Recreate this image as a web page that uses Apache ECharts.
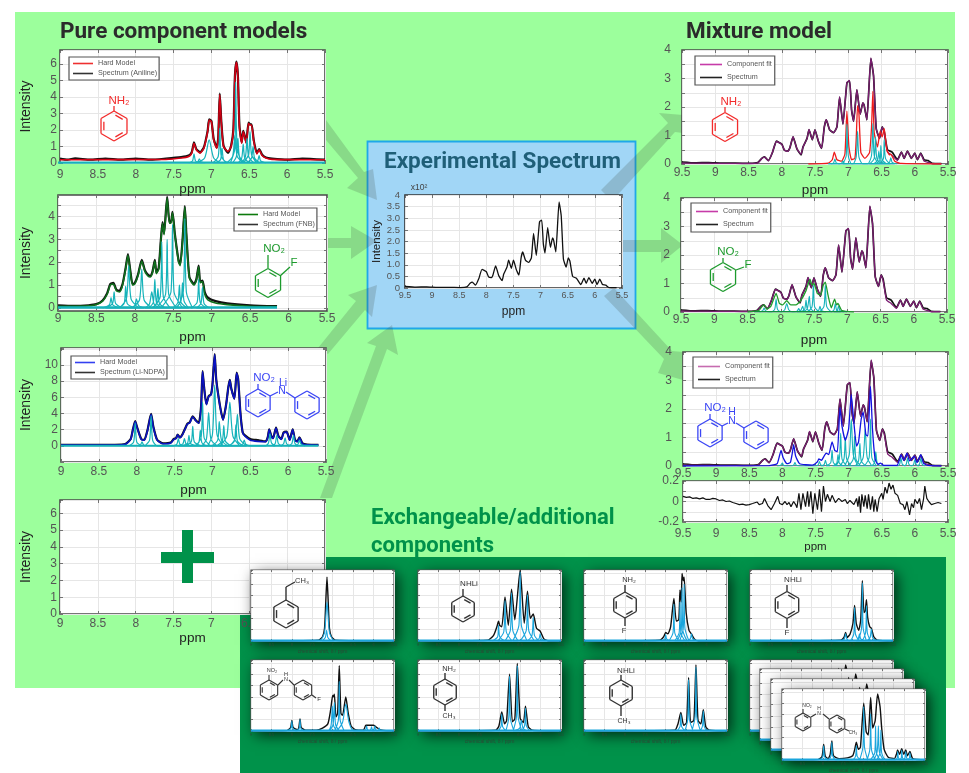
<!DOCTYPE html>
<html>
<head>
<meta charset="utf-8">
<title>Spectral hard models</title>
<script src="https://cdn.jsdelivr.net/npm/echarts@6/dist/echarts.min.js"></script>
<style>html,body{margin:0;padding:0;background:#fff}#c{width:969px;height:773px;filter:blur(.45px)}</style>
</head>
<body>
<div id="c"></div>
<script>
// ---------- axis ticks ----------
const fnbTicks = [0,.5,1,1.5,2,2.5,3,3.5,4,4.5];
const fnbTickLabels = [0,1,2,3,4];

// ---------- pure component: aniline ----------
const anilineModel = [[9,.2],[7.6,.22],[7.4,.3],[7.3,.4],[7.26,.6],[7.23,1.2],[7.2,.8],[7.15,.6],[7.1,.9],[7.05,1.9],[7.03,2.6],[7.0,2.5],[6.97,1.4],[6.93,.9],[6.91,1.5],[6.89,4.15],[6.87,2.5],[6.84,1.0],[6.78,.7],[6.74,1.0],[6.71,2.0],[6.69,5.2],[6.67,6.1],[6.65,5.2],[6.63,2.2],[6.6,1.2],[6.58,1.9],[6.56,1.6],[6.54,1.2],[6.51,2.4],[6.49,2.3],[6.47,2.3],[6.44,1.3],[6.4,.55],[6.37,.8],[6.33,.45],[6.28,.3],[6.2,.22],[5.5,.2]];
const anilineSpectrum = [[9,.27],[8.9,.2],[8.8,.28],[8.6,.2],[8.4,.27],[8.2,.2],[8,.27],[7.8,.2],[7.6,.27],[7.4,.36],[7.3,.45],[7.26,.65],[7.23,1.25],[7.2,.85],[7.15,.65],[7.1,.95],[7.05,1.95],[7.03,2.65],[7.0,2.55],[6.97,1.45],[6.93,.95],[6.91,1.55],[6.89,4.2],[6.87,2.55],[6.84,1.05],[6.78,.62],[6.74,1.05],[6.71,2.05],[6.69,5.25],[6.67,6.15],[6.65,5.25],[6.63,2.25],[6.6,1.25],[6.58,1.95],[6.56,1.65],[6.54,1.25],[6.51,2.45],[6.49,2.35],[6.47,2.35],[6.44,1.35],[6.4,.6],[6.37,.85],[6.33,.5],[6.28,.33],[6.2,.27],[6,.2],[5.8,.27],[5.5,.2]];
const anilinePeaks = [[7.3,0],[7.25,.12],[7.23,.55],[7.21,.12],[7.16,0],[7.22,0],[7.18,.08],[7.16,.25],[7.14,.08],[7.08,0],[7.2,0],[7.09,.3],[7.03,1.4],[6.97,.3],[6.88,0],[6.98,0],[6.91,.4],[6.89,2.1],[6.87,.4],[6.8,0],[6.95,0],[6.88,.2],[6.86,.9],[6.84,.2],[6.78,0],[6.8,0],[6.72,.4],[6.69,1.7],[6.66,.4],[6.58,0],[6.75,0],[6.69,.9],[6.68,4.9],[6.66,.9],[6.6,0],[6.72,0],[6.67,.4],[6.65,1.5],[6.63,.4],[6.56,0],[6.65,0],[6.6,.3],[6.58,1.15],[6.56,.3],[6.5,0],[6.6,0],[6.55,.4],[6.53,1.5],[6.51,.4],[6.44,0],[6.58,0],[6.51,.5],[6.49,1.9],[6.47,.5],[6.4,0],[6.53,0],[6.47,.3],[6.45,1],[6.43,.3],[6.36,0],[6.45,0],[6.39,.12],[6.37,.45],[6.35,.12],[6.28,0]];

// ---------- pure component: FNB ----------
const fnbModel = [[9,.08],[8.6,.1],[8.5,.15],[8.42,.3],[8.36,.6],[8.32,1.0],[8.28,1.05],[8.24,.75],[8.2,.7],[8.16,1.0],[8.12,1.7],[8.09,2.3],[8.06,1.6],[8.03,1.0],[8.0,1.05],[7.96,1.4],[7.91,2.05],[7.87,1.6],[7.83,1.4],[7.8,1.35],[7.77,1.55],[7.74,2.05],[7.72,1.5],[7.69,1.7],[7.66,3.0],[7.64,3.7],[7.62,3.2],[7.58,4.8],[7.55,3.7],[7.53,3.7],[7.51,4.15],[7.48,3.2],[7.43,2],[7.41,1.85],[7.38,2.9],[7.35,4.4],[7.33,3.2],[7.29,1.3],[7.23,1.0],[7.2,1.2],[7.17,1.8],[7.15,1.1],[7.12,1.15],[7.09,.6],[7.05,.35],[6.95,.22],[6.8,.15],[6.5,.08],[6.15,.06]];
const fnbSpectrum = [[9,.12],[8.8,.09],[8.6,.12],[8.5,.17],[8.42,.33],[8.36,.65],[8.32,1.05],[8.28,1.1],[8.24,.8],[8.2,.75],[8.16,1.05],[8.12,1.75],[8.09,2.35],[8.06,1.65],[8.03,1.05],[8.0,1.1],[7.96,1.45],[7.91,2.1],[7.87,1.65],[7.83,1.45],[7.8,1.4],[7.77,1.6],[7.74,2.1],[7.72,1.55],[7.69,1.75],[7.66,3.05],[7.64,3.75],[7.62,3.25],[7.58,4.85],[7.55,3.75],[7.53,3.75],[7.51,4.2],[7.48,3.25],[7.43,2.05],[7.41,1.9],[7.38,2.95],[7.35,4.45],[7.33,3.25],[7.29,1.35],[7.23,1.05],[7.2,1.25],[7.17,1.85],[7.15,1.15],[7.12,1.2],[7.09,.68],[7.05,.45],[6.95,.3],[6.8,.2],[6.5,.12],[6.15,.08]];
const fnbPeaks = [[8.42,0],[8.33,.15],[8.31,.45],[8.29,.15],[8.2,0],[8.38,0],[8.29,.2],[8.27,.7],[8.25,.2],[8.16,0],[8.22,0],[8.14,.2],[8.12,.95],[8.1,.2],[8.0,0],[8.2,0],[8.11,.4],[8.08,1.85],[8.05,.4],[7.95,0],[8.05,0],[8.0,.1],[7.98,.4],[7.95,.1],[7.88,0],[8.04,0],[7.94,.35],[7.91,1.7],[7.88,.35],[7.78,0],[7.87,0],[7.81,.18],[7.78,.7],[7.75,.18],[7.68,0],[7.82,0],[7.76,.25],[7.74,1.25],[7.72,.25],[7.65,0],[7.78,0],[7.72,.2],[7.7,.85],[7.68,.2],[7.6,0],[7.76,0],[7.67,.5],[7.65,2.9],[7.63,.5],[7.54,0],[7.72,0],[7.6,.6],[7.58,3.0],[7.56,.6],[7.46,0],[7.66,0],[7.53,.7],[7.51,3.65],[7.49,.7],[7.38,0],[7.5,0],[7.44,.25],[7.42,1.0],[7.4,.25],[7.32,0],[7.47,0],[7.4,.3],[7.38,1.1],[7.36,.3],[7.3,0],[7.45,0],[7.37,.7],[7.35,3.9],[7.33,.7],[7.25,0],[7.27,0],[7.19,.25],[7.17,1.25],[7.15,.25],[7.07,0],[7.2,0],[7.14,.2],[7.12,.9],[7.1,.2],[7.03,0]];

// ---------- pure component: Li-NDPA ----------
const ndpaModel = [[9,.1],[8.3,.1],[8.15,.2],[8.08,.8],[8.05,2],[8.02,3.0],[7.99,2.1],[7.94,.8],[7.9,.7],[7.86,1.8],[7.81,3.9],[7.78,2.3],[7.73,.7],[7.65,.25],[7.55,.35],[7.51,.8],[7.48,.9],[7.46,1.35],[7.43,1.0],[7.4,1.3],[7.36,2.1],[7.33,2.7],[7.3,2.85],[7.26,3.6],[7.22,3.1],[7.18,2.8],[7.15,4.8],[7.13,9.2],[7.11,7.2],[7.08,5.1],[7.05,6.1],[7.02,6.3],[7.0,7.5],[6.97,11.3],[6.95,8.2],[6.9,4.9],[6.86,3.2],[6.82,5],[6.79,7.2],[6.77,8.1],[6.75,7],[6.71,5.8],[6.68,9.0],[6.66,8.2],[6.63,4],[6.6,1.6],[6.57,1.2],[6.5,.7],[6.4,.55],[6.3,.5],[6.27,1],[6.25,2],[6.22,1.1],[6.2,.9],[6.16,2.2],[6.13,1.2],[6.09,.8],[6.06,1.6],[6.02,1.7],[5.98,.7],[5.94,2],[5.91,.7],[5.88,.5],[5.85,1],[5.81,.25],[5.75,.12],[5.6,.1]];
const ndpaSpectrum = [[9,.13],[8.7,.12],[8.3,.13],[8.15,.22],[8.08,.85],[8.05,2.05],[8.02,3.05],[7.99,2.15],[7.94,.85],[7.9,.75],[7.86,1.85],[7.81,3.95],[7.78,2.35],[7.73,.75],[7.65,.3],[7.55,.4],[7.51,.85],[7.48,.95],[7.46,1.4],[7.43,1.05],[7.4,1.35],[7.36,2.15],[7.33,2.75],[7.3,2.9],[7.26,3.65],[7.22,3.15],[7.18,2.85],[7.15,4.85],[7.13,9.25],[7.11,7.25],[7.08,5.15],[7.05,6.15],[7.02,6.35],[7.0,7.55],[6.97,11.35],[6.95,8.25],[6.9,4.95],[6.86,3.25],[6.82,5.05],[6.79,7.25],[6.77,8.15],[6.75,7.05],[6.71,5.85],[6.68,9.05],[6.66,8.25],[6.63,4.05],[6.6,1.65],[6.57,1.3],[6.5,.85],[6.4,.7],[6.3,.55],[6.27,1.05],[6.25,2.05],[6.22,1.15],[6.2,.95],[6.16,2.25],[6.13,1.25],[6.09,.85],[6.06,1.65],[6.02,1.75],[5.98,.75],[5.94,2.05],[5.91,.75],[5.88,.55],[5.85,1.05],[5.81,.3],[5.75,.15],[5.6,.12]];
const ndpaPeaks = [[8.1,0],[8.04,.5],[8.02,2.8],[8,.5],[7.94,0],[7.97,0],[7.95,.1],[7.93,.5],[7.91,.1],[7.88,0],[7.89,0],[7.83,.7],[7.81,3.7],[7.79,.7],[7.73,0],[7.52,0],[7.47,.2],[7.45,.9],[7.43,.2],[7.38,0],[7.45,0],[7.39,.25],[7.37,.9],[7.35,.25],[7.3,0],[7.4,0],[7.33,.3],[7.31,1.3],[7.29,.3],[7.22,0],[7.36,0],[7.28,.5],[7.26,2.4],[7.24,.5],[7.16,0],[7.24,0],[7.18,.4],[7.16,1.9],[7.14,.4],[7.08,0],[7.22,0],[7.15,1],[7.13,5.4],[7.11,1],[7.03,0],[7.14,0],[7.08,.8],[7.05,4.1],[7.02,.8],[6.94,0],[7.06,0],[7,1.4],[6.97,7.5],[6.94,1.4],[6.86,0],[7.0,0],[6.93,.7],[6.91,3],[6.88,.7],[6.8,0],[6.94,0],[6.87,.6],[6.85,2.5],[6.83,.6],[6.76,0],[6.9,0],[6.81,1.2],[6.77,5.4],[6.73,1.2],[6.64,0],[6.78,0],[6.71,.6],[6.69,2.6],[6.67,.6],[6.6,0],[6.77,0],[6.7,.9],[6.67,3.9],[6.64,.9],[6.55,0],[6.65,0],[6.6,.2],[6.58,.7],[6.56,.2],[6.5,0],[6.3,0],[6.26,.35],[6.24,1.5],[6.22,.35],[6.17,0],[6.2,0],[6.17,.3],[6.15,1.3],[6.13,.3],[6.08,0],[6.1,0],[6.06,.25],[6.04,1],[6.02,.25],[5.98,0],[6,0],[5.95,.3],[5.93,1.3],[5.91,.3],[5.87,0],[5.9,0],[5.87,.2],[5.85,.7],[5.83,.2],[5.78,0]];

// ---------- experimental mixture ----------
const mixtureSpectrum = [[9.5,.07],[9.3,.04],[9.1,.05],[8.9,.03],[8.7,.03],[8.48,.02],[8.36,.05],[8.3,.2],[8.26,.25],[8.2,.12],[8.14,.4],[8.08,.8],[8.0,.7],[7.96,.48],[7.91,.45],[7.88,.55],[7.83,.95],[7.8,.75],[7.77,.52],[7.71,.32],[7.68,.6],[7.62,.9],[7.59,1.2],[7.54,.85],[7.5,1.2],[7.45,.8],[7.4,.55],[7.36,1.3],[7.33,1.55],[7.28,1.2],[7.22,1.1],[7.17,1.3],[7.13,2.35],[7.08,1.4],[7.02,2.85],[6.98,2.92],[6.95,1.9],[6.92,1.5],[6.87,2.6],[6.82,1.75],[6.78,2.15],[6.76,2.05],[6.72,1.55],[6.66,3.7],[6.62,3.1],[6.58,1.25],[6.53,.9],[6.49,1.3],[6.46,1.15],[6.41,.5],[6.34,.42],[6.26,.15],[6.2,.42],[6.16,.2],[6.11,.45],[6.05,.2],[6,.38],[5.96,.15],[5.91,.38],[5.86,.15],[5.8,.12],[5.74,.02],[5.6,.01]];
const mixtureFit = [[9.5,.03],[9.3,.03],[9.1,.03],[8.9,.02],[8.7,.02],[8.48,.02],[8.36,.04],[8.3,.19],[8.26,.24],[8.2,.11],[8.14,.41],[8.08,.79],[8.0,.69],[7.96,.49],[7.91,.44],[7.88,.56],[7.83,.96],[7.8,.74],[7.77,.53],[7.71,.34],[7.68,.6],[7.62,.89],[7.59,1.21],[7.54,.86],[7.5,1.2],[7.45,.81],[7.4,.56],[7.36,1.3],[7.33,1.56],[7.28,1.2],[7.22,1.1],[7.17,1.3],[7.13,2.36],[7.08,1.4],[7.02,2.86],[6.98,2.93],[6.95,1.9],[6.92,1.5],[6.87,2.61],[6.82,1.75],[6.78,2.15],[6.76,2.05],[6.72,1.55],[6.66,3.72],[6.62,3.1],[6.58,1.25],[6.53,.9],[6.49,1.3],[6.46,1.1],[6.41,.42],[6.34,.3],[6.26,.13],[6.2,.42],[6.16,.2],[6.11,.45],[6.05,.2],[6,.38],[5.96,.16],[5.91,.36],[5.86,.1],[5.8,.06],[5.74,.01],[5.6,.01]];

// ---------- mixture components ----------
const mixAnilineFit = [[7.6,0],[7.3,.03],[7.24,.15],[7.21,.42],[7.17,.15],[7.1,.1],[7.05,.35],[7.02,1.85],[6.99,.6],[6.95,.15],[6.9,.2],[6.88,.9],[6.86,2.05],[6.84,1.8],[6.81,.4],[6.75,.2],[6.68,.4],[6.65,1.3],[6.63,2.55],[6.61,1.1],[6.56,.6],[6.52,1.15],[6.49,.95],[6.46,1.25],[6.42,.5],[6.38,.32],[6.36,.35],[6.3,.1],[6.2,.02],[5.6,0]];
const mixAnilinePeaks = [[7.26,0],[7.22,.04],[7.2,.17],[7.18,.04],[7.12,0],[7.15,0],[7.1,.03],[7.08,.1],[7.06,.03],[7,0],[7.08,0],[7.03,.3],[7.02,1.4],[7,.3],[6.95,0],[6.93,0],[6.88,.25],[6.86,1.15],[6.84,.25],[6.78,0],[6.71,0],[6.65,.3],[6.63,1.42],[6.61,.3],[6.55,0],[6.68,0],[6.61,.2],[6.59,.95],[6.57,.2],[6.5,0],[6.62,0],[6.56,.12],[6.54,.45],[6.52,.12],[6.45,0],[6.58,0],[6.52,.15],[6.51,.65],[6.49,.15],[6.42,0],[6.54,0],[6.47,.2],[6.46,.85],[6.44,.2],[6.37,0],[6.44,0],[6.38,.06],[6.36,.22],[6.34,.06],[6.27,0]];
const mixFnbFit = [[8.5,0],[8.33,.05],[8.28,.2],[8.25,.25],[8.21,.1],[8.15,.2],[8.07,.65],[8.02,.3],[7.97,.25],[7.91,.4],[7.85,.25],[7.77,.25],[7.7,.4],[7.62,.75],[7.56,1.15],[7.53,.95],[7.5,1.0],[7.45,.65],[7.4,.6],[7.36,.95],[7.33,1.05],[7.29,.6],[7.24,.15],[7.19,.45],[7.16,.25],[7.14,.3],[7.08,.05],[6.9,0]];
const mixFnbPeaks = [[8.32,0],[8.27,.05],[8.25,.14],[8.23,.05],[8.17,0],[8.14,0],[8.09,.1],[8.07,.45],[8.05,.1],[8,0],[8,0],[7.94,.08],[7.91,.3],[7.88,.08],[7.82,0],[7.8,0],[7.75,.04],[7.73,.12],[7.71,.04],[7.66,0],[7.76,0],[7.7,.05],[7.67,.2],[7.65,.05],[7.58,0],[7.7,0],[7.64,.1],[7.62,.42],[7.6,.1],[7.53,0],[7.66,0],[7.6,.12],[7.57,.55],[7.55,.12],[7.48,0],[7.6,0],[7.53,.18],[7.51,.95],[7.49,.18],[7.42,0],[7.5,0],[7.43,.06],[7.41,.2],[7.39,.06],[7.32,0],[7.42,0],[7.35,.2],[7.33,.95],[7.31,.2],[7.24,0],[7.25,0],[7.2,.07],[7.18,.3],[7.16,.07],[7.1,0],[7.2,0],[7.15,.05],[7.13,.22],[7.11,.05],[7.05,0]];
const mixNdpaFit = [[9.5,0],[8.2,.01],[8.08,.08],[8.05,.3],[8.02,.55],[7.99,.3],[7.93,.08],[7.88,.12],[7.85,.45],[7.83,.75],[7.8,.35],[7.74,.08],[7.55,.03],[7.47,.15],[7.45,.25],[7.41,.2],[7.37,.35],[7.34,.45],[7.3,.4],[7.25,.85],[7.21,.55],[7.17,.5],[7.13,2.05],[7.1,1.4],[7.05,.9],[7.0,1.3],[6.96,2.5],[6.92,1.5],[6.88,.7],[6.85,.85],[6.81,1.65],[6.78,1.9],[6.74,1.1],[6.71,1.05],[6.67,2.8],[6.64,1.3],[6.6,.25],[6.56,.06],[6.52,.1],[6.47,.02],[6.27,.02],[6.23,.25],[6.21,.4],[6.17,.2],[6.12,.45],[6.08,.18],[6.01,.35],[5.97,.12],[5.91,.4],[5.87,.1],[5.8,.02],[5.6,0]];
const mixNdpaPeaks = [[8.08,0],[8.03,.02],[8,.1],[7.98,.02],[7.93,0],[7.87,0],[7.83,.03],[7.81,.12],[7.79,.03],[7.73,0],[7.5,0],[7.46,.04],[7.44,.16],[7.42,.04],[7.37,0],[7.42,0],[7.37,.05],[7.35,.2],[7.33,.05],[7.28,0],[7.34,0],[7.27,.12],[7.25,.55],[7.23,.12],[7.16,0],[7.24,0],[7.18,.1],[7.16,.4],[7.14,.1],[7.08,0],[7.19,0],[7.14,.25],[7.12,1.15],[7.1,.25],[7.03,0],[7.13,0],[7.07,.25],[7.05,1.0],[7.03,.25],[6.96,0],[7.06,0],[6.99,.4],[6.96,1.65],[6.93,.4],[6.86,0],[7.0,0],[6.93,.25],[6.91,1.05],[6.89,.25],[6.82,0],[6.9,0],[6.85,.18],[6.83,.8],[6.81,.18],[6.74,0],[6.85,0],[6.78,.3],[6.75,1.3],[6.72,.3],[6.65,0],[6.76,0],[6.69,.3],[6.67,1.65],[6.65,.3],[6.58,0],[6.65,0],[6.61,.12],[6.59,.5],[6.57,.12],[6.52,0],[6.26,0],[6.23,.06],[6.21,.28],[6.19,.06],[6.15,0],[6.16,0],[6.13,.06],[6.11,.28],[6.09,.06],[6.05,0],[6.05,0],[6.02,.05],[6,.22],[5.98,.05],[5.94,0],[5.96,0],[5.93,.06],[5.91,.28],[5.89,.06],[5.85,0]];
const residual = [[9.5,.05],[9.45,.04],[9.4,.045],[9.35,.03],[9.3,.035],[9.25,.025],[9.2,.035],[9.15,.02],[9.1,.02],[9.05,.03],[9,.025],[8.95,.01],[8.9,.015],[8.85,.0],[8.8,.005],[8.75,-.01],[8.7,-.02],[8.65,-.03],[8.6,-.025],[8.55,-.035],[8.5,-.03],[8.45,-.02],[8.42,-.03],[8.38,-.005],[8.35,-.03],[8.3,-.02],[8.27,.03],[8.22,-.04],[8.19,-.03],[8.17,-.08],[8.12,-.02],[8.07,.05],[8.04,-.02],[8.0,-.03],[7.96,0],[7.93,-.03],[7.9,-.01],[7.87,-.05],[7.83,0],[7.8,-.03],[7.78,-.06],[7.75,.08],[7.72,-.08],[7.69,.08],[7.65,-.05],[7.62,.1],[7.6,-.05],[7.57,.1],[7.54,-.12],[7.51,.08],[7.47,-.08],[7.44,.12],[7.41,-.1],[7.38,.15],[7.35,.0],[7.32,.07],[7.28,.0],[7.25,.06],[7.2,-.01],[7.15,.03],[7.1,0],[7.05,.02],[7.02,-.02],[6.98,.01],[6.92,-.03],[6.88,.03],[6.86,-.05],[6.84,.05],[6.82,-.11],[6.8,.07],[6.77,-.05],[6.75,.06],[6.72,-.07],[6.7,.07],[6.67,-.08],[6.64,.05],[6.62,-.1],[6.6,.02],[6.57,-.1],[6.54,.03],[6.5,.08],[6.48,.02],[6.45,.14],[6.42,.08],[6.39,.18],[6.36,.12],[6.33,.16],[6.3,.08],[6.26,.06],[6.22,-.02],[6.18,-.03],[6.15,-.08],[6.12,.0],[6.08,-.13],[6.05,-.02],[6.02,-.06],[6,.02],[5.96,-.02],[5.93,.03],[5.9,-.08],[5.87,.02],[5.85,.15],[5.82,.03],[5.79,.0],[5.75,-.03],[5.7,-.02],[5.65,-.01],[5.6,-.02]];

// ---------- exchangeable components ----------
const ethylSpectrum = [[9,0],[7.35,.01],[7.25,.06],[7.2,.18],[7.17,.55],[7.14,.9],[7.11,.55],[7.08,.18],[7.03,.06],[6.93,.01],[5.5,0]];
const ethylPeaks = [[7.3,0],[7.2,.12],[7.14,.55],[7.08,.12],[6.98,0],[7.26,0],[7.18,.05],[7.15,.15],[7.12,.05],[7.04,0]];
const nhliSpectrum = [[9,0],[7.3,.01],[7.15,.08],[7.07,.2],[7.03,.28],[7.0,.22],[6.95,.2],[6.87,.62],[6.79,.22],[6.71,.73],[6.63,.3],[6.5,1.0],[6.4,.25],[6.32,.7],[6.25,.32],[6.18,.38],[6.1,.18],[6.01,.14],[5.92,.03],[5.8,0],[5.5,0]];
const nhliPeaks = [[7.18,0],[7.05,.06],[7.03,.22],[7,.06],[6.88,0],[7.05,0],[6.9,.13],[6.87,.57],[6.84,.13],[6.7,0],[6.87,0],[6.74,.15],[6.71,.68],[6.68,.15],[6.55,0],[6.68,0],[6.53,.22],[6.5,.97],[6.47,.22],[6.33,0],[6.5,0],[6.35,.15],[6.32,.65],[6.29,.15],[6.15,0],[6.32,0],[6.21,.08],[6.18,.33],[6.15,.08],[6.03,0],[6.15,0],[6.04,.03],[6.01,.1],[5.98,.03],[5.88,0]];
const fluoroAnilineSpectrum = [[9,0],[7.15,.01],[7.05,.06],[7.0,.12],[6.95,.1],[6.88,.2],[6.8,.6],[6.74,.28],[6.68,.3],[6.65,.72],[6.62,.55],[6.6,.95],[6.57,.85],[6.55,.9],[6.5,.4],[6.43,.15],[6.37,.1],[6.3,.03],[6.2,0],[5.5,0]];
const fluoroAnilinePeaks = [[7.1,0],[7.02,.03],[7,.09],[6.98,.03],[6.9,0],[6.92,0],[6.82,.12],[6.8,.52],[6.78,.12],[6.68,0],[6.78,0],[6.67,.12],[6.65,.55],[6.63,.12],[6.53,0],[6.72,0],[6.62,.15],[6.6,.75],[6.58,.15],[6.48,0],[6.66,0],[6.57,.18],[6.55,.8],[6.53,.18],[6.43,0],[6.5,0],[6.4,.03],[6.37,.1],[6.34,.03],[6.24,0]];
const fluoroNhliSpectrum = [[9,0],[6.78,.01],[6.7,.05],[6.66,.12],[6.62,.05],[6.55,.1],[6.48,.25],[6.44,.5],[6.4,.25],[6.34,.15],[6.29,.3],[6.25,.85],[6.21,.4],[6.18,.42],[6.15,.58],[6.12,.33],[6.07,.2],[6.03,.18],[5.97,.06],[5.88,.01],[5.5,0]];
const fluoroNhliPeaks = [[6.76,0],[6.69,.03],[6.66,.1],[6.63,.03],[6.56,0],[6.56,0],[6.46,.1],[6.44,.47],[6.42,.1],[6.33,0],[6.4,0],[6.35,.03],[6.32,.1],[6.29,.03],[6.22,0],[6.35,0],[6.27,.18],[6.25,.82],[6.23,.18],[6.15,0],[6.25,0],[6.17,.12],[6.15,.5],[6.13,.12],[6.05,0],[6.14,0],[6.06,.05],[6.03,.17],[6,.05],[5.92,0]];
const fluoroNdpaSpectrum = [[9,0],[8.12,.005],[8.03,.05],[8.0,.15],[7.97,.05],[7.86,.02],[7.83,.05],[7.8,.17],[7.77,.05],[7.66,.01],[7.4,.01],[7.25,.04],[7.12,.1],[7.05,.3],[7.0,.5],[6.98,.48],[6.96,.52],[6.92,.2],[6.88,.25],[6.84,.92],[6.8,.25],[6.76,.22],[6.68,.48],[6.62,.25],[6.55,.07],[6.45,.02],[6.25,.01],[6.19,.08],[6.12,.08],[6.0,.08],[5.9,.04],[5.8,.01],[5.5,0]];
const fluoroNdpaPeaks = [[8.1,0],[8.02,.04],[8,.14],[7.98,.04],[7.9,0],[7.88,0],[7.82,.04],[7.8,.16],[7.78,.04],[7.7,0],[7.12,0],[7.04,.08],[7.01,.35],[6.98,.08],[6.9,0],[7.08,0],[6.99,.09],[6.96,.4],[6.93,.09],[6.84,0],[6.95,0],[6.86,.16],[6.84,.7],[6.82,.16],[6.72,0],[6.9,0],[6.76,.12],[6.68,.38],[6.6,.12],[6.48,0],[6.24,0],[6.19,.02],[6.17,.07],[6.15,.02],[6.1,0],[6.12,0],[6.07,.02],[6.05,.06],[6.03,.02],[5.98,0],[6.03,0],[5.99,.02],[5.97,.07],[5.95,.02],[5.9,0],[5.93,0],[5.88,.01],[5.86,.04],[5.84,.01],[5.78,0]];
const toluidineSpectrum = [[9,0],[7.1,.01],[7.02,.07],[6.95,.27],[6.88,.1],[6.83,.15],[6.76,.8],[6.69,.13],[6.63,.17],[6.57,.95],[6.5,.18],[6.42,.12],[6.37,.35],[6.3,.06],[6.2,.01],[5.5,0]];
const toluidinePeaks = [[7.04,0],[6.97,.06],[6.95,.24],[6.93,.06],[6.85,0],[6.86,0],[6.78,.18],[6.76,.77],[6.74,.18],[6.65,0],[6.67,0],[6.59,.2],[6.57,.92],[6.55,.2],[6.46,0],[6.65,0],[6.51,.04],[6.47,.15],[6.43,.04],[6.33,0],[6.46,0],[6.39,.08],[6.37,.32],[6.35,.08],[6.27,0]];
const methylNhliSpectrum = [[9,0],[6.78,.01],[6.7,.1],[6.63,.26],[6.56,.08],[6.49,.12],[6.44,.75],[6.39,.12],[6.31,.15],[6.26,.93],[6.21,.15],[6.14,.1],[6.08,.3],[6.02,.06],[5.93,.01],[5.5,0]];
const methylNhliPeaks = [[6.72,0],[6.65,.06],[6.63,.24],[6.61,.06],[6.53,0],[6.54,0],[6.46,.17],[6.44,.72],[6.42,.17],[6.33,0],[6.36,0],[6.28,.2],[6.26,.9],[6.24,.2],[6.15,0],[6.16,0],[6.1,.07],[6.08,.28],[6.06,.07],[6,0]];
const tolylNdpaSpectrum = [[9,0],[8.12,.005],[8.02,.05],[7.98,.22],[7.94,.05],[7.87,.02],[7.82,.08],[7.78,.27],[7.74,.06],[7.6,.02],[7.4,.03],[7.27,.06],[7.22,.15],[7.18,.25],[7.13,.15],[7.08,.18],[7.0,.8],[6.94,.4],[6.89,.35],[6.83,.88],[6.78,.45],[6.72,.55],[6.66,.93],[6.6,.75],[6.56,.45],[6.5,.15],[6.4,.04],[6.25,.02],[6.2,.08],[6.17,.14],[6.12,.08],[6.07,.16],[6.02,.08],[5.97,.14],[5.93,.06],[5.87,.12],[5.8,.02],[5.5,0]];
const tolylNdpaPeaks = [[8.06,0],[8,.05],[7.98,.2],[7.96,.05],[7.88,0],[7.86,0],[7.8,.06],[7.78,.25],[7.76,.06],[7.68,0],[7.28,0],[7.2,.05],[7.18,.2],[7.16,.05],[7.08,0],[7.1,0],[7.02,.18],[7,.75],[6.98,.18],[6.9,0],[6.92,0],[6.85,.15],[6.83,.65],[6.81,.15],[6.72,0],[6.84,0],[6.73,.1],[6.71,.48],[6.69,.1],[6.6,0],[6.75,0],[6.67,.12],[6.64,.48],[6.62,.12],[6.52,0],[6.68,0],[6.6,.1],[6.58,.42],[6.56,.1],[6.46,0],[6.23,0],[6.18,.03],[6.17,.12],[6.15,.03],[6.1,0],[6.12,0],[6.08,.03],[6.07,.14],[6.05,.03],[6,0],[6.03,0],[5.99,.03],[5.97,.12],[5.95,.03],[5.9,0],[5.92,0],[5.88,.03],[5.87,.1],[5.85,.03],[5.79,0]];
const baseline = [[9.5,.02],[5.5,.02]];

// ---------- colours ----------
const CYAN='#16b3ba', SKY='#1aa5dc', BLACK='#111';
const GREEN_BG='#9cff9c', DARK='#00924a', BLUE_BOX='#a1d6f6';
const ARROW='rgba(60,70,60,0.2)';
const FONT='"Liberation Sans", Arial, sans-serif';

// ---------- panels ----------
const grid=[], xAxis=[], yAxis=[], series=[], legend=[], g=[];
function lineS(name,data,color,width,xi,z,smooth){
  series.push({name,type:'line',data,xAxisIndex:xi,yAxisIndex:xi,showSymbol:false,symbol:'none',smooth:smooth||0,
    lineStyle:{color,width},itemStyle:{color},z,silent:true,animation:false});
}
function panel(o,draw){
  const z=o.z||2, xi=xAxis.length, sm=!!o.small;
  grid.push({left:o.l,top:o.t,width:o.w,height:o.h,show:true,backgroundColor:'#fff',borderColor:o.border||'#4a4a4a',
    borderWidth:sm?1.2:1.6,z,containLabel:false,outerBoundsMode:'none'});
  if(sm) g.push({type:'rect',shape:{x:o.l,y:o.t,width:o.w,height:o.h},z:z-1,silent:true,
    style:{fill:'#fff',shadowBlur:14,shadowColor:'rgba(0,0,0,.75)',shadowOffsetX:4,shadowOffsetY:4}});
  const gi=grid.length-1;
  const split={show:true,lineStyle:{color:'#e6e6e6',width:1}};
  const tick={show:true,inside:true,length:sm?2:3,lineStyle:{color:'#555',width:.8}};
  const yTick=o.yCustom?{...tick,customValues:o.yCustom}:tick;
  const xm=o.xMax||9;
  xAxis.push({type:'value',gridIndex:gi,inverse:true,min:5.5,max:xm,interval:.5,z,
    axisLine:{show:false,onZero:false},axisTick:tick,splitLine:split,
    axisLabel:{show:true,color:o.xlc||'#555',fontSize:o.xf||12,fontFamily:FONT,margin:o.xm===undefined?4:o.xm,hideOverlap:false,
      showMinLabel:true,showMaxLabel:true},
    name:o.xName===undefined?'ppm':o.xName,nameLocation:'middle',nameGap:o.xg||17,
    nameTextStyle:{color:o.xc||'#222',fontSize:o.xn||13.5,fontFamily:FONT}});
  const fmt=o.yFmt||(v=>String(v));
  const yLab={show:true,color:'#555',fontSize:o.yf||12,fontFamily:FONT,margin:o.ym===undefined?3:o.ym,formatter:fmt,
      showMinLabel:true,showMaxLabel:true};
  if(o.yLabels) yLab.customValues=o.yLabels;
  yAxis.push({type:'value',gridIndex:gi,min:o.yMin,max:o.yMax,interval:o.yInt,z,
    axisLine:{show:false,onZero:false},axisTick:yTick,splitLine:split,axisLabel:yLab,
    name:o.yName||'',nameLocation:'middle',nameGap:o.yg||26,
    nameTextStyle:{color:'#222',fontSize:o.yn||14,fontFamily:FONT}});
  // box ticks on the opposite sides
  xAxis.push({type:'value',gridIndex:gi,inverse:true,min:5.5,max:xm,interval:.5,z,position:'top',
    axisLine:{show:false,onZero:false},axisTick:tick,splitLine:{show:false},axisLabel:{show:false}});
  yAxis.push({type:'value',gridIndex:gi,min:o.yMin,max:o.yMax,interval:o.yInt,z,position:'right',
    axisLine:{show:false,onZero:false},axisTick:yTick,splitLine:{show:false},axisLabel:{show:false}});
  draw(xi,z+1);
  if(o.legend){
    const L=o.legend;
    legend.push({left:L.l,top:L.t,orient:'vertical',itemWidth:L.iw||20,itemHeight:1.6,itemGap:L.gap||3,padding:L.pad||[3,2,3,4],
      selectedMode:false,backgroundColor:'#fff',borderColor:'#555',borderWidth:1.2,z:z+3,icon:'rect',
      textStyle:{color:'#555',fontSize:L.fs||7.2,fontFamily:FONT},
      data:L.items.map(i=>({name:i[0],itemStyle:{color:i[1]}}))});
  }
}
const ints=v=>Number.isInteger(v)&&v>=0&&v<=10?String(v):'';
const yFull={yMin:0,yMax:4,yInt:.5,yFmt:ints,ym:11};

panel({l:60,t:50,w:265,h:113,yMin:0,yMax:6.85,yInt:1,yFmt:ints,yName:'Intensity',yg:27,xm:6,xg:17,
  legend:{l:69,t:57,items:[['Hard Model','#ee3030'],['Spectrum (Aniline)','#333']]}},(x,z)=>{
  lineS('Spectrum (Aniline)',anilineSpectrum,BLACK,2.2,x,z,.2);
  lineS('Hard Model',anilineModel,'#d40014',1.6,x,z,.2);
  lineS('Aniline peaks',anilinePeaks,CYAN,1.2,x,z,.25);
  lineS('Aniline baseline',baseline,CYAN,2.4,x,z);
});
panel({l:58,t:195,w:269,h:116,yMin:-.13,yMax:4.93,yInt:.5,yCustom:fnbTicks,yLabels:fnbTickLabels,yFmt:ints,yName:'Intensity',yg:25,xm:2,xg:19,
  legend:{l:234,t:208,items:[['Hard Model','#0d7a0d'],['Spectrum (FNB)','#333']]}},(x,z)=>{
  lineS('Spectrum (FNB)',fnbSpectrum,BLACK,2.2,x,z,.2);
  lineS('Hard Model',fnbModel,'#0f6f1c',1.6,x,z,.2);
  lineS('FNB peaks',fnbPeaks,CYAN,1.2,x,z,.25);
  lineS('FNB baseline',[[9,.02],[6.15,.02]],CYAN,2.4,x,z);
});
panel({l:61,t:348,w:265,h:114,yMin:-2,yMax:12.1,yInt:2,yFmt:ints,yName:'Intensity',yg:28,xg:21,
  legend:{l:71,t:356,items:[['Hard Model','#3340f0'],['Spectrum (Li-NDPA)','#333']]}},(x,z)=>{
  lineS('Spectrum (Li-NDPA)',ndpaSpectrum,BLACK,2.2,x,z,.2);
  lineS('Hard Model',ndpaModel,'#0a12c4',1.6,x,z,.2);
  lineS('NDPA peaks',ndpaPeaks,CYAN,1.2,x,z,.25);
  lineS('NDPA baseline',[[9,.02],[5.6,.02]],CYAN,2,x,z);
});
panel({l:60,t:500,w:265,h:114,yMin:0,yMax:6.8,yInt:1,yFmt:ints,yName:'Intensity',yg:27,xg:17,z:3},()=>{});

// experimental
panel({l:405,t:195,w:217,h:93,xMax:9.5,...yFull,yFmt:v=>v===0?'0':v===4?'4':v.toFixed(1),
  xf:9,yf:9.5,xn:12,xg:18,xm:3,ym:5,yName:'Intensity',yn:11.5,yg:20,border:'#333'},(x,z)=>{
  lineS('Experimental Spectrum',mixtureSpectrum,BLACK,1.3,x,z,.15);
});

// mixture
panel({l:682,t:50,w:266,h:114,xMax:9.5,...yFull,xm:3,xg:19,
  legend:{l:695,t:56,iw:22,gap:6,pad:[5,3,4,5],items:[['Component fit','#c63ba8'],['Spectrum','#222']]}},(x,z)=>{
  lineS('Spectrum',mixtureSpectrum,BLACK,1.7,x,z,.15);
  lineS('Component fit',mixtureFit,'#7c1d72',1.3,x,z,.15);
  lineS('Aniline fit',mixAnilineFit,'#ee1c1c',1.3,x,z,.15);
  lineS('Aniline fit peaks',mixAnilinePeaks,CYAN,1.1,x,z,.25);
  lineS('Fit baseline',[[7.3,.01],[6.3,.01]],CYAN,1.6,x,z);
});
panel({l:681,t:198,w:266,h:114,xMax:9.5,...yFull,xm:2,xg:21,
  legend:{l:691,t:203,iw:22,gap:6,pad:[5,3,4,5],items:[['Component fit','#c63ba8'],['Spectrum','#222']]}},(x,z)=>{
  lineS('Spectrum',mixtureSpectrum,BLACK,1.7,x,z,.15);
  lineS('Component fit',mixtureFit,'#7c1d72',1.3,x,z,.15);
  lineS('FNB fit peaks',mixFnbPeaks,CYAN,1.1,x,z,.25);
  lineS('FNB fit',mixFnbFit,'#1e9c2a',1.3,x,z,.15);
  lineS('FNB fit baseline',[[8.4,.01],[7,.01]],'#0f8f3c',1.6,x,z);
});
panel({l:683,t:352,w:265,h:114,xMax:9.5,...yFull,xm:2,xName:'',
  legend:{l:693,t:357,iw:22,gap:6,pad:[6,3,5,5],items:[['Component fit','#c66bb0'],['Spectrum','#222']]}},(x,z)=>{
  lineS('Spectrum',mixtureSpectrum,BLACK,1.7,x,z,.15);
  lineS('Component fit',mixtureFit,'#7c1d72',1.3,x,z,.15);
  lineS('NDPA fit peaks',mixNdpaPeaks,CYAN,1.1,x,z,.25);
  lineS('NDPA fit',mixNdpaFit,'#1212e0',1.3,x,z,.15);
});
panel({l:683,t:481,w:265,h:41,xMax:9.5,yMin:-.2,yMax:.2,yInt:.1,yFmt:v=>{const r=Math.round(v*10)/10;return r===0?'0':Math.abs(r)===.2?String(r):'';},
  xn:11.5,xg:17,ym:4,xm:6},(x,z)=>{
  lineS('Residual',residual,BLACK,1.2,x,z);
});

// exchangeable tiles
const tiny={small:true,yMin:0,yMax:1,yInt:.16,yFmt:()=>'',xf:4,xlc:'#2a4a35',xn:5,xc:'#2a4a35',xg:8,xm:2,xName:'chemical shift, \u03b4 / ppm',border:'#555'};
function tile(l,t,name,spec,peaks,z){
  panel({...tiny,l,t,w:143,h:71,z:z||10},(x,zz)=>{
    lineS(name+' spectrum',spec,BLACK,1.4,x,zz,.2);
    lineS(name+' peaks',peaks,SKY,1.1,x,zz,.25);
    lineS(name+' baseline',[[9,.004],[5.5,.004]],SKY,2.2,x,zz);
  });
}
tile(251,570,'ethylbenzene',ethylSpectrum,ethylPeaks);
tile(418,570,'lithium anilide',nhliSpectrum,nhliPeaks);
tile(584,570,'4-fluoroaniline',fluoroAnilineSpectrum,fluoroAnilinePeaks);
tile(750,570,'lithium 4-fluoroanilide',fluoroNhliSpectrum,fluoroNhliPeaks);
tile(251,660,'fluoro-NDPA',fluoroNdpaSpectrum,fluoroNdpaPeaks);
tile(418,660,'p-toluidine',toluidineSpectrum,toluidinePeaks);
tile(584,660,'lithium toluidide',methylNhliSpectrum,methylNhliPeaks);
tile(750,660,'tolyl-NDPA a',tolylNdpaSpectrum,tolylNdpaPeaks,20);
tile(760,669,'tolyl-NDPA b',tolylNdpaSpectrum,tolylNdpaPeaks,30);
tile(771,679,'tolyl-NDPA c',tolylNdpaSpectrum,tolylNdpaPeaks,40);
tile(782,689,'tolyl-NDPA d',tolylNdpaSpectrum,tolylNdpaPeaks,50);

// ---------- decoration ----------
g.push({type:'rect',shape:{x:15,y:12,width:940,height:676},style:{fill:GREEN_BG},z:-20,silent:true});
g.push({type:'rect',shape:{x:367.5,y:141.5,width:268,height:187},style:{fill:BLUE_BOX,stroke:'#1fa8e8',lineWidth:1.8},z:-19,silent:true});
g.push({type:'rect',shape:{x:240,y:557,width:706,height:216},style:{fill:DARK},z:-5,silent:true});
function poly(pts){g.push({type:'polygon',shape:{points:pts},style:{fill:ARROW},z:-10,silent:true});}
poly([[326,120],[326,140],[358,178],[347,188],[377,200],[373,169],[364,172]]);
poly([[327,238],[351,238],[351,226],[377,241],[351,259],[351,248],[327,248]]);
poly([[318,348],[328,354],[365,310],[372,317],[377,285],[348,295],[356,301]]);
poly([[320,498],[332,498],[387,349],[398,355],[392,325],[367,343],[376,346]]);
poly([[601,190],[612,201],[675,132],[683,133],[683,115],[659,113],[668,123]]);
poly([[622,240],[661,240],[661,228],[683,245],[661,263],[661,252],[622,252]]);
poly([[604,296],[614,288],[672,351],[683,352],[683,380],[658,373],[664,359]]);
// plus sign
g.push({type:'rect',shape:{x:161,y:552,width:53,height:11},style:{fill:DARK},z:8,silent:true});
g.push({type:'rect',shape:{x:182,y:530,width:11,height:53},style:{fill:DARK},z:8,silent:true});

// molecule drawing
function bond(x1,y1,x2,y2,c,w){g.push({type:'line',shape:{x1,y1,x2,y2},style:{stroke:c,lineWidth:w||1},z:100,silent:true});}
function label(t,x,y,c,fs){g.push({type:'text',style:{text:t,x,y,fill:c,font:fs+'px '+FONT,textAlign:'center',textVerticalAlign:'middle'},z:100,silent:true});}
function ring(cx,cy,r,c,w){
  const P=[];for(let i=0;i<6;i++){const a=-Math.PI/2+i*Math.PI/3;P.push([cx+r*Math.cos(a),cy+r*Math.sin(a)]);}
  for(let i=0;i<6;i++){const A=P[i],B=P[(i+1)%6];bond(A[0],A[1],B[0],B[1],c,w);
    if(i%2===0){const k=.78,m=.72;const f=(q)=>[cx+(q[0]-cx)*k,cy+(q[1]-cy)*k];
      const a=f(A),b=f(B);const mx=(a[0]+b[0])/2,my=(a[1]+b[1])/2;
      bond(mx+(a[0]-mx)*m,my+(a[1]-my)*m,mx+(b[0]-mx)*m,my+(b[1]-my)*m,c,w);}
  }
}
const RED='#f22b2b',GRN='#1c9a2c',BLU='#3b46f5',BLK='#333';
// aniline
ring(114,126,15,RED,1.3);bond(114,111,114,106,RED,1.3);label('NH\u2082',119,101,RED,11.5);
ring(725,127,14.5,RED,1.3);bond(725,112,725,107,RED,1.3);label('NH\u2082',731,102,RED,11.5);
// FNB
ring(268,283,14.5,GRN,1.3);bond(268,268,268,255,GRN,1.3);bond(280,276,290,267,GRN,1.3);label('NO\u2082',274,249,GRN,11.5);label('F',294,263,GRN,11.5);
ring(723,277,14.5,GRN,1.3);bond(723,262,723,258,GRN,1.3);bond(736,270,744,267,GRN,1.3);label('NO\u2082',728,252,GRN,11.5);label('F',748,265,GRN,11.5);
// NDPA
ring(258,403,14,BLU,1.3);ring(307,405,14,BLU,1.3);bond(258,389,258,384,BLU,1.3);bond(270,396,278,392,BLU,1.3);bond(286,392,295,398,BLU,1.3);
label('NO\u2082',264,378,BLU,11.5);label('Li',283,383,BLU,10.5);label('N',282,391,BLU,10.5);
ring(710,433,14,BLU,1.3);ring(756,435,14,BLU,1.3);bond(710,419,710,414,BLU,1.3);bond(722,426,728,423,BLU,1.3);bond(736,423,744,428,BLU,1.3);
label('NO\u2082',715,408,BLU,11.5);label('H',732,412,BLU,10.5);label('N',732,421,BLU,10.5);
// exchangeable
ring(286,614,14,BLK,1.4);bond(286,600,286,587,BLK,1.4);bond(286,587,295,582,BLK,1.4);label('CH\u2083',302,581,BLK,7.5);
ring(463,609,13,BLK,1.4);bond(463,596,463,589,BLK,1.4);label('NHLi',469,584,BLK,8);
ring(625,605,13,BLK,1.4);bond(625,592,625,585,BLK,1.4);bond(625,618,625,626,BLK,1.4);label('NH\u2082',629,580,BLK,7.5);label('F',624,631,BLK,7.5);
ring(787,605,13.5,BLK,1.4);bond(787,591.5,787,585,BLK,1.4);bond(787,618.5,787,628,BLK,1.4);label('NHLi',793,580,BLK,8);label('F',787,633,BLK,8);
ring(269,690,10,BLK,1.1);ring(303,690,10,BLK,1.1);bond(269,680,269,675,BLK,1.1);bond(278,685,283,680,BLK,1.1);bond(289,680,294,685,BLK,1.1);bond(312,695,316,698,BLK,1.1);
label('NO\u2082',272,670,BLK,5.5);label('H',286,674,BLK,5.5);label('N',286,679,BLK,5.5);label('F',319,699,BLK,6);
ring(445,692,13,BLK,1.4);bond(445,679,445,673,BLK,1.4);bond(445,705,445,711,BLK,1.4);label('NH\u2082',449,669,BLK,7.5);label('CH\u2083',449,716,BLK,7);
ring(621,693,13,BLK,1.4);bond(621,680,621,675,BLK,1.4);bond(621,706,621,716,BLK,1.4);label('NHLi',626,671,BLK,8);label('CH\u2083',624,721,BLK,7);
ring(803,722,9,BLK,1.1);ring(837,724,9,BLK,1.1);bond(803,713,803,709,BLK,1.1);bond(811,717,816,714,BLK,1.1);bond(823,714,829,719,BLK,1.1);bond(845,729,849,731,BLK,1.1);
label('NO\u2082',807,706,BLK,5);label('H',819,709,BLK,5);label('N',819,714,BLK,5);label('CH\u2083',853,733,BLK,4.5);
label('x10\u00b2',419,188,'#444',8.5);

const titleFont='Roboto, "Noto Sans", sans-serif';
const tt=(text,left,top,color,fontSize)=>({text,left,top,z:6,padding:0,textStyle:{color,fontFamily:titleFont,fontWeight:'bold',fontSize}});
const title=[
 tt('Pure component models',60,21,'#2b2b2b',22.5),
 tt('Mixture model',686,21,'#2b2b2b',22.5),
 tt('Experimental Spectrum',384,151,'#1f5f78',22.5),
 tt('Exchangeable/additional',371,507,DARK,22),
 tt('components',371,535,DARK,22)
];

const chart=echarts.init(document.getElementById('c'),null,{renderer:'canvas',width:969,height:773});
chart.setOption({animation:false,backgroundColor:'#fff',title,grid,xAxis,yAxis,series,legend,graphic:{elements:g}});
</script>
</body>
</html>
